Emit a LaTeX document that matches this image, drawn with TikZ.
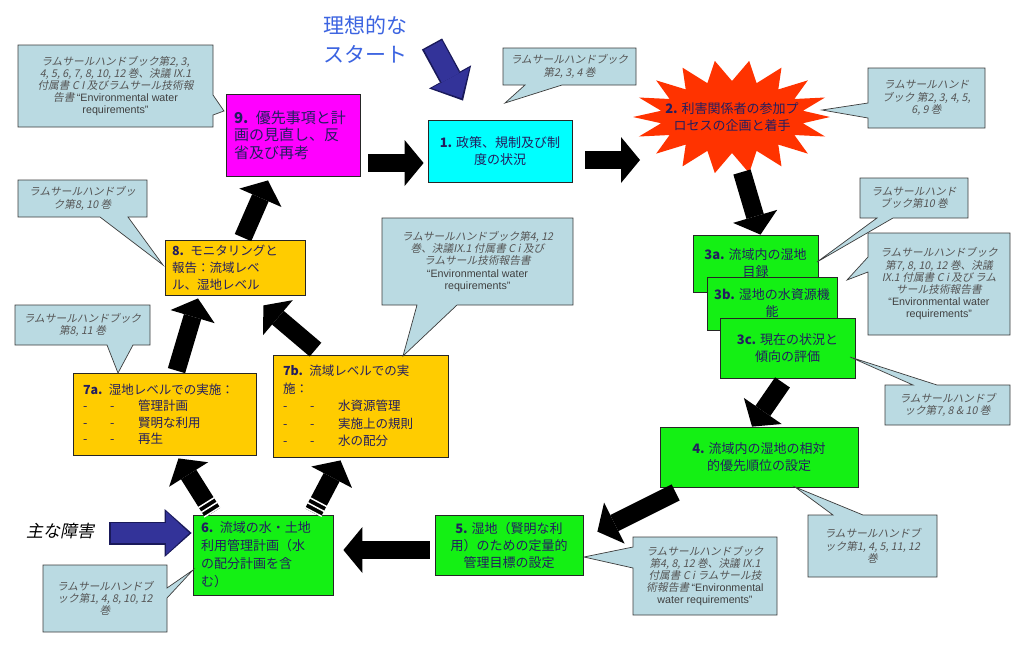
\documentclass[tikz,border=0pt]{standalone}
\usepackage{fontspec}
\setmainfont{Noto Sans CJK JP}
\newfontfamily\cjkit[FakeSlant=0.2]{Noto Sans CJK JP}
\newfontfamily\latsans{Liberation Sans}
\usetikzlibrary{arrows.meta,calc}
\definecolor{navy}{RGB}{35,30,95}
\definecolor{callfill}{RGB}{186,218,226}
\definecolor{callline}{RGB}{60,60,60}
\definecolor{calltext}{RGB}{85,85,85}
\definecolor{boxgreen}{RGB}{20,240,20}
\definecolor{boxorange}{RGB}{255,204,0}
\definecolor{boxmag}{RGB}{255,0,255}
\definecolor{boxcyan}{RGB}{0,255,255}
\definecolor{starc}{RGB}{255,51,0}
\definecolor{arrowblue}{RGB}{51,51,153}
\definecolor{arrowdark}{RGB}{25,25,90}
\definecolor{titleblue}{RGB}{60,100,225}
\newcommand\dd[1]{\makebox[27pt][l]{-}\makebox[28pt][l]{-}#1}
\newcommand\envw{{\latsans\color{black!75}“Environmental water}}
\newcommand\reqs{{\latsans\color{black!75}requirements”}}
\begin{document}
\begin{tikzpicture}[x=1pt,y=-1pt,
  box/.style={draw=black!85, line width=0.8pt, text=navy, inner sep=0pt},
  gbox/.style={box, fill=boxgreen},
  obox/.style={box, fill=boxorange},
  nfont/.style={font=\fontsize{13}{17}\selectfont},
  callout/.style={fill=callfill, draw=callline, line width=0.7pt, line join=miter},
  ctext/.style={text=calltext, font=\cjkit\fontsize{10.7}{12.2}\selectfont, align=center, inner sep=0pt},
  blk/.style={line width=18pt, black, -{Triangle[length=19pt,width=46pt,line width=0pt]}},
  bluearrdk/.style={line width=23pt, arrowdark, -{Triangle[length=27pt,width=48pt,line width=0pt]}},
  bluearr/.style={line width=20pt, arrowblue, -{Triangle[length=23pt,width=43pt,line width=0pt]}},
  stripe/.style={white, line width=19pt, dash pattern=on 1.5pt off 4pt},
]
\fill[white] (0,0) rectangle (1028,649);
\useasboundingbox (0,0) rectangle (1028,649);

% title and obstacle label
\node[text=titleblue, font=\fontsize{21}{29}\selectfont, align=center] (title) at (365,40) {理想的な\\スタート};
\node[font=\cjkit\fontsize{17}{20}\selectfont] (obst) at (60,531) {主な障害};

% starburst
\fill[starc] (830,117) \foreach \k in {1,...,35} { -- ({732+ifthenelse(isodd(\k),72,99)*cos(\k*10)},{117+ifthenelse(isodd(\k),36,57)*sin(\k*10)}) } -- cycle;
\node[text=navy, nfont, align=center, inner sep=0pt] (n2) at (732,117) {\textbf{2.} 利害関係者の参加プ\\ロセスの企画と着手};

% main nodes
\node[box, fill=boxmag, minimum width=134pt, minimum height=82pt, text width=118pt, align=left, font=\fontsize{15}{17.5}\selectfont] (n9) at (293,135) {\textbf{9.} 優先事項と計\\画の見直し、反\\省及び再考};
\node[box, fill=boxcyan, minimum width=144pt, minimum height=62pt, align=center, nfont] (n1) at (500,151) {\textbf{1.} 政策、規制及び制\\度の状況};
\node[gbox, minimum width=125pt, minimum height=57pt, align=center, nfont] (n3a) at (755.5,263.5) {\textbf{3a.} 流域内の湿地\\目録};
\node[gbox, minimum width=130pt, minimum height=53pt, align=center, nfont] (n3b) at (772,303.5) {\textbf{3b.} 湿地の水資源機\\能};
\node[gbox, minimum width=135pt, minimum height=60pt, align=center, nfont] (n3c) at (787.5,348) {\textbf{3c.} 現在の状況と\\傾向の評価};
\node[gbox, minimum width=198pt, minimum height=60pt, align=center, nfont] (n4) at (759,457) {\textbf{4.} 流域内の湿地の相対\\的優先順位の設定};
\node[gbox, minimum width=148pt, minimum height=60pt, align=center, nfont] (n5) at (509,545) {\textbf{5.} 湿地（賢明な利\\用）のための定量的\\管理目標の設定};
\node[gbox, minimum width=140pt, minimum height=80pt, text width=124pt, align=left, font=\fontsize{13}{18}\selectfont] (n6) at (263,555) {\textbf{6.} 流域の水・土地\\利用管理計画（水\\の配分計画を含\\む）};
\node[obox, minimum width=183pt, minimum height=82pt, text width=163pt, align=left, font=\fontsize{12.5}{16.5}\selectfont] (n7a) at (164.5,414) {\textbf{7a.} 湿地レベルでの実施：\\\dd{管理計画}\\\dd{賢明な利用}\\\dd{再生}};
\node[obox, minimum width=175pt, minimum height=102pt, text width=155pt, align=left, font=\fontsize{12.5}{17.5}\selectfont] (n7b) at (360.5,406) {\textbf{7b.} 流域レベルでの実\\施：\\\dd{水資源管理}\\\dd{実施上の規則}\\\dd{水の配分}};
\node[obox, minimum width=140pt, minimum height=55pt, text width=126pt, align=left, font=\fontsize{12.5}{17}\selectfont] (n8) at (235,267.5) {\textbf{8.} モニタリングと\\報告：流域レベ\\ル、湿地レベル};

% callouts
\draw[callout] (18,45) -- (213,45) -- (213,95) -- (224,111) -- (213,115) -- (213,127) -- (18,127) -- cycle;
\node[ctext] (c9) at (115.5,86) {ラムサールハンドブック第2, 3,\\4, 5, 6, 7, 8, 10, 12 巻、決議 IX.1\\付属書 C I 及びラムサール技術報\\告書 \envw\\\reqs};
\draw[callout] (503,48) -- (636,48) -- (636,85) -- (562,85) -- (505,103) -- (525,85) -- (503,85) -- cycle;
\node[ctext] (c1) at (569.5,66.5) {ラムサールハンドブック\\第2, 3, 4 巻};
\draw[callout] (868,68) -- (985,68) -- (985,128) -- (868,128) -- (868,118) -- (822,110) -- (868,103) -- cycle;
\node[ctext] (c2) at (926.5,98) {ラムサールハンド\\ブック 第2, 3, 4, 5,\\6, 9 巻};
\draw[callout] (18,180) -- (147,180) -- (147,217) -- (128,217) -- (163,265) -- (100,217) -- (18,217) -- cycle;
\node[ctext] (c8) at (82.5,198.5) {ラムサールハンドブッ\\ク第8, 10 巻};
\draw[callout] (15,305) -- (150,305) -- (150,345) -- (133,345) -- (118,373) -- (107,345) -- (15,345) -- cycle;
\node[ctext] (c7a) at (82.5,325) {ラムサールハンドブック\\第8, 11 巻};
\draw[callout] (382,218) -- (573,218) -- (573,305) -- (457,305) -- (403,356) -- (417,305) -- (382,305) -- cycle;
\node[ctext] (c7b) at (477.5,261.5) {ラムサールハンドブック第4, 12\\巻、決議IX.1 付属書 C i 及び\\ラムサール技術報告書\\\envw\\\reqs};
\draw[callout] (860,178) -- (968,178) -- (968,218) -- (893,218) -- (817,262) -- (877,218) -- (860,218) -- cycle;
\node[ctext] (c3a) at (914,198) {ラムサールハンド\\ブック第10 巻};
\draw[callout] (868,233) -- (1010,233) -- (1010,335) -- (868,335) -- (868,272) -- (847,280) -- (868,257) -- cycle;
\node[ctext] (c3b) at (939,284) {ラムサールハンドブック\\第7, 8, 10, 12 巻、決議\\IX.1 付属書 C i 及び ラム\\サール技術報告書\\\envw\\\reqs};
\draw[callout] (885,385) -- (913,385) -- (850,357) -- (937,385) -- (1010,385) -- (1010,425) -- (885,425) -- cycle;
\node[ctext] (c3c) at (947.5,405) {ラムサールハンドブ\\ック第7, 8 \& 10 巻};
\draw[callout] (808,515) -- (833,515) -- (795,487) -- (863,515) -- (937,515) -- (937,577) -- (808,577) -- cycle;
\node[ctext] (c4) at (872.5,546) {ラムサールハンドブ\\ック第1, 4, 5, 11, 12\\巻};
\draw[callout] (633,537) -- (777,537) -- (777,615) -- (633,615) -- (633,568) -- (584,557) -- (633,547) -- cycle;
\node[ctext] (c5) at (705,576) {ラムサールハンドブック\\第4, 8, 12 巻、決議 IX.1\\付属書 C i ラムサール技\\術報告書 {\latsans\color{black!75}“Environmental}\\{\latsans\color{black!75}water requirements”}};
\draw[callout] (43,565) -- (167,565) -- (167,588) -- (193,570) -- (167,598) -- (167,632) -- (43,632) -- cycle;
\node[ctext] (c6) at (105,598.5) {ラムサールハンドブ\\ック第1, 4, 8, 10, 12\\巻};

% blue arrows (dark outline underneath)
\coordinate (startpt) at (432,44);
\draw[bluearrdk] (startpt) -- ($(n1.north)+(-37,-19)$);
\draw[bluearr] ($(startpt)!1.5pt!(n1.north)$) -- ($(n1.north)+(-38.5,-21.5)$);
\coordinate (obstpt) at (109,533);
\draw[bluearrdk] (obstpt) -- ($(n6.west)+(-1,-22)$);
\draw[bluearr] ($(obstpt)+(1.5,0)$) -- ($(n6.west)+(-3.5,-22)$);

% black block arrows
\draw[blk] ($(n9.east)+(8,28)$) -- ($(n1.west)+(-4,12)$);
\draw[blk] ($(n1.east)+(13,9)$) -- ($(n2)+(-92,43)$);
\draw[blk] ($(n2)+(10,55)$) -- ($(n3a.north)+(5,0)$);
\draw[blk] ($(n3c.south)+(-5,4)$) -- ($(n4.north)+(-7,0)$);
\draw[blk] ($(n4.south west)+(16,5)$) -- ($(n5.north east)+(14,17)$);
\draw[blk] ($(n5.west)+(-5,5)$) -- ($(n6.east)+(10,-5)$);
\draw[blk] ($(n6.north west)+(20,-2)$) coordinate (s6a) -- ($(n7a.south)+(14,3)$) coordinate (e6a);
\draw[stripe] (s6a) -- ($(s6a)!13pt!(e6a)$);
\draw[blk] ($(n6.north)+(50,-2)$) coordinate (s6b) -- ($(n7b.south)+(-20,3)$) coordinate (e6b);
\draw[stripe] (s6b) -- ($(s6b)!13pt!(e6b)$);
\draw[blk] ($(n7a.north)+(12,-2)$) -- ($(n8.south)+(-37,3)$);
\draw[blk] ($(n7b.north)+(-45,-5)$) -- ($(n8.south east)+(-42,10)$);
\draw[blk] ($(n8.north)+(8,-2)$) -- ($(n9.south)+(-25,4)$);
\end{tikzpicture}
\end{document}
